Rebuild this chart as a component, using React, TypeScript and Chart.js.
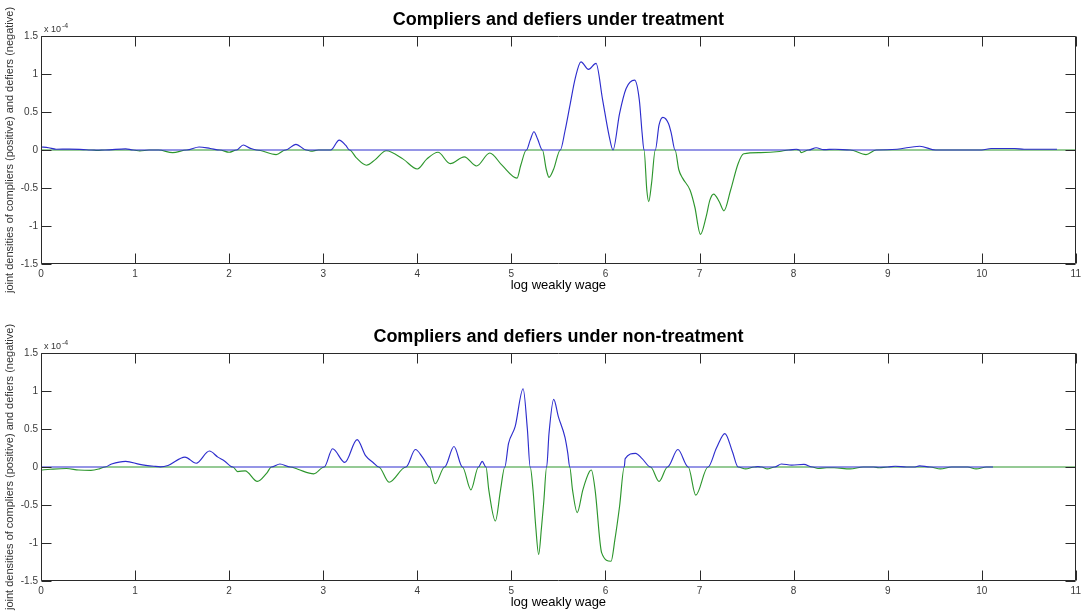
import React, { useEffect, useRef } from "react";
import { Chart, registerables } from "chart.js";

Chart.register(...registerables);

type Pt = [number, number];

// ---------- text ----------
const panelTitles = [
  "Compliers and defiers under treatment",
  "Compliers and defiers under non-treatment",
];
const xAxisLabel = "log weakly wage";
const yAxisLabel = "joint densities of compliers (positive) and defiers (negative)";
const exponentBase = "x 10";
const exponentPower = "-4";

// ---------- ticks ----------
const xTickValues = [0, 1, 2, 3, 4, 5, 6, 7, 8, 9, 10, 11];
const yTickValues = [-1.5, -1, -0.5, 0, 0.5, 1, 1.5];

// ---------- data (values in units of 1e-4) ----------
// Panel 1: under treatment
const treatCompliers: Pt[] = [
  [0, 0.04], [0.08, 0.03], [0.16, 0.01], [0.3, 0.012], [0.45, 0.005], [0.53, 0],
  [0.68, 0], [0.9, 0.015], [0.98, 0], [1.55, 0], [1.68, 0.04], [1.8, 0.02], [1.9, 0],
  [2.08, 0], [2.15, 0.066], [2.22, 0.025], [2.29, 0], [2.6, 0], [2.71, 0.075], [2.82, 0],
  [3.08, 0], [3.17, 0.13], [3.24, 0.06], [3.28, 0], [5.16, 0], [5.2, 0.13], [5.24, 0.24],
  [5.28, 0.14], [5.33, 0], [5.52, 0], [5.57, 0.25], [5.62, 0.57], [5.68, 0.95],
  [5.74, 1.16], [5.82, 1.06], [5.9, 1.14], [5.97, 0.66], [6.04, 0.18], [6.08, 0],
  [6.15, 0.48], [6.22, 0.81], [6.31, 0.92], [6.36, 0.66], [6.39, 0.22], [6.41, 0],
  [6.53, 0], [6.57, 0.33], [6.61, 0.43], [6.67, 0.35], [6.7, 0.22], [6.74, 0],
  [7.95, 0], [8.03, 0.01], [8.06, 0], [8.16, 0], [8.24, 0.03], [8.32, 0.005],
  [8.44, 0.01], [8.6, 0], [8.88, 0], [9.1, 0.01], [9.34, 0.05], [9.51, 0], [10.0, 0],
  [10.1, 0.02], [10.35, 0.02], [10.45, 0.01], [10.8, 0.01],
];
const treatDefiers: Pt[] = [
  [0, 0], [0.53, 0], [0.6, -0.005], [0.68, 0], [0.98, 0], [1.05, -0.012], [1.15, 0],
  [1.25, 0], [1.4, -0.035], [1.55, 0], [1.9, 0], [2.0, -0.03], [2.08, 0], [2.29, 0],
  [2.5, -0.06], [2.6, 0], [2.82, 0], [2.87, -0.015], [2.95, 0], [3.28, 0], [3.35, -0.1],
  [3.46, -0.2], [3.55, -0.13], [3.67, -0.01], [3.85, -0.12], [4.0, -0.25], [4.1, -0.12],
  [4.22, -0.03], [4.35, -0.18], [4.5, -0.09], [4.63, -0.21], [4.77, -0.04], [4.9, -0.2],
  [5.06, -0.37], [5.1, -0.2], [5.16, 0], [5.33, 0], [5.37, -0.25], [5.4, -0.36],
  [5.45, -0.25], [5.52, 0], [6.41, 0], [6.44, -0.53], [6.46, -0.68], [6.49, -0.44],
  [6.53, 0], [6.74, 0], [6.78, -0.26], [6.82, -0.37], [6.9, -0.53], [6.95, -0.75],
  [7.01, -1.11], [7.07, -0.88], [7.11, -0.66], [7.15, -0.58], [7.21, -0.68],
  [7.26, -0.8], [7.33, -0.53], [7.41, -0.18], [7.47, -0.05], [7.65, -0.035],
  [7.85, -0.02], [7.95, 0], [8.06, 0], [8.08, -0.035], [8.16, 0], [8.6, 0],
  [8.77, -0.06], [8.88, 0], [11, 0],
];

// Panel 2: under non-treatment
const nonTreatCompliers: Pt[] = [
  [0, 0], [0.68, 0], [0.75, 0.04], [0.9, 0.075], [1.05, 0.035], [1.2, 0.01], [1.27, 0.002],
  [1.35, 0.02], [1.53, 0.13], [1.65, 0.05], [1.79, 0.21], [1.88, 0.13], [1.95, 0.08],
  [2.04, 0], [2.45, 0], [2.54, 0.04], [2.65, 0], [3.01, 0], [3.1, 0.24], [3.23, 0.06],
  [3.36, 0.36], [3.45, 0.15], [3.53, 0.06], [3.59, 0], [3.88, 0], [3.98, 0.23],
  [4.06, 0.12], [4.13, 0], [4.29, 0], [4.39, 0.27], [4.48, 0], [4.65, 0], [4.69, 0.075],
  [4.73, 0], [4.93, 0], [4.97, 0.31], [5.04, 0.53], [5.125, 1.03], [5.17, 0.5], [5.2, 0],
  [5.375, 0], [5.4, 0.44], [5.45, 0.89], [5.5, 0.66], [5.57, 0.39], [5.6, 0.18],
  [5.62, 0], [6.2, 0], [6.21, 0.11], [6.32, 0.18], [6.39, 0.11], [6.48, 0], [6.66, 0],
  [6.77, 0.23], [6.88, 0], [7.09, 0], [7.18, 0.25], [7.27, 0.44], [7.35, 0.2], [7.41, 0],
  [7.58, 0], [7.62, 0.005], [7.66, 0], [7.8, 0], [7.87, 0.04], [7.98, 0.025],
  [8.11, 0.035], [8.2, 0], [9.0, 0], [9.08, 0.01], [9.2, 0], [9.28, 0], [9.34, 0.015],
  [9.45, 0], [10.12, 0],
];
const nonTreatDefiers: Pt[] = [
  [0, -0.04], [0.1, -0.03], [0.27, -0.02], [0.4, -0.04], [0.53, -0.045], [0.62, -0.025],
  [0.68, 0], [2.04, 0], [2.09, -0.06], [2.17, -0.05], [2.3, -0.19], [2.4, -0.08],
  [2.45, 0], [2.65, 0], [2.73, -0.03], [2.9, -0.09], [3.01, 0], [3.59, 0], [3.7, -0.2],
  [3.88, 0], [4.13, 0], [4.19, -0.22], [4.29, 0], [4.48, 0], [4.57, -0.3], [4.65, 0],
  [4.73, 0], [4.76, -0.3], [4.83, -0.71], [4.885, -0.3], [4.93, 0], [5.2, 0],
  [5.23, -0.3], [5.26, -0.8], [5.29, -1.15], [5.32, -0.8], [5.345, -0.45], [5.375, 0],
  [5.62, 0], [5.65, -0.3], [5.7, -0.6], [5.76, -0.3], [5.83, -0.06], [5.85, -0.04],
  [5.89, -0.3], [5.96, -1.13], [6.06, -1.24], [6.1, -0.96], [6.15, -0.52], [6.2, 0],
  [6.48, 0], [6.57, -0.19], [6.66, 0], [6.88, 0], [6.96, -0.37], [7.09, 0], [7.41, 0],
  [7.49, -0.025], [7.58, 0], [7.66, 0], [7.72, -0.025], [7.8, 0], [8.2, 0],
  [8.26, -0.02], [8.35, -0.01], [8.43, -0.01], [8.6, -0.025], [8.74, 0], [8.85, 0],
  [8.91, -0.01], [9.0, 0], [9.45, 0], [9.56, -0.025], [9.68, 0], [9.85, 0],
  [9.94, -0.025], [10.05, 0], [11, 0],
];

const FONT = '"Liberation Sans", Arial, Helvetica, sans-serif';
const BLUE = "rgb(45,45,205)";
const GREEN = "rgb(45,150,45)";
const AXIS = "#2a2a2a";

const matlabAxes = {
  id: "matlabAxes",
  afterDatasetsDraw(chart: any, _args: any, opts: any) {
    const { ctx, chartArea } = chart;
    const { left, right, top, bottom } = chartArea;
    const xs = chart.scales.x;
    const ys = chart.scales.y;
    ctx.save();
    ctx.strokeStyle = AXIS;
    ctx.lineWidth = 1;
    const L = Math.round(left) + 0.5;
    const R = Math.round(right) - 0.5;
    const T = Math.round(top) + 0.5;
    const B = Math.round(bottom) - 0.5;
    ctx.beginPath();
    ctx.rect(L, T, R - L, B - T);
    const tl = 10;
    for (const v of xTickValues) {
      const px = Math.round(xs.getPixelForValue(v)) + 0.5;
      ctx.moveTo(px, B);
      ctx.lineTo(px, B - tl);
      ctx.moveTo(px, T);
      ctx.lineTo(px, T + tl);
    }
    for (const v of yTickValues) {
      const py = Math.round(ys.getPixelForValue(v)) + 0.5;
      ctx.moveTo(L, py);
      ctx.lineTo(L + tl, py);
      ctx.moveTo(R, py);
      ctx.lineTo(R - tl, py);
    }
    ctx.stroke();

    // title
    ctx.fillStyle = "#000";
    ctx.font = `bold 18px ${FONT}`;
    ctx.textAlign = "center";
    ctx.textBaseline = "middle";
    ctx.fillText(opts.title, (left + right) / 2, top - 16);

    // exponent label
    ctx.fillStyle = "#333";
    ctx.textAlign = "left";
    ctx.font = `9px ${FONT}`;
    const ex = left + 3;
    ctx.fillText(exponentBase, ex, top - 6.5);
    const w = ctx.measureText(exponentBase).width;
    ctx.font = `7px ${FONT}`;
    ctx.fillText(exponentPower, ex + w + 1, top - 10);
    ctx.restore();
  },
};

function Panel({ title, compliers, defiers, top }: { title: string; compliers: Pt[]; defiers: Pt[]; top: number }) {
  const ref = useRef<HTMLCanvasElement | null>(null);
  useEffect(() => {
    if (!ref.current) return;
    const chart = new Chart(ref.current, {
      type: "line",
      data: {
        datasets: [
          {
            label: "compliers",
            data: compliers.map(([x, y]) => ({ x, y })),
            borderColor: BLUE,
            borderWidth: 1.15,
            pointRadius: 0,
            cubicInterpolationMode: "monotone",
            fill: false,
          },
          {
            label: "defiers",
            data: defiers.map(([x, y]) => ({ x, y })),
            borderColor: GREEN,
            borderWidth: 1.15,
            pointRadius: 0,
            cubicInterpolationMode: "monotone",
            fill: false,
          },
        ],
      },
      options: {
        animation: false,
        responsive: false,
        maintainAspectRatio: false,
        events: [],
        layout: { padding: { top: 36, right: 9, left: 0, bottom: 0 } },
        plugins: {
          legend: { display: false },
          tooltip: { enabled: false },
          title: { display: false },
          matlabAxes: { title },
        } as any,
        scales: {
          x: {
            type: "linear",
            min: 0,
            max: 11,
            afterBuildTicks: (s: any) => {
              s.ticks = xTickValues.map((v) => ({ value: v }));
            },
            afterFit: (s: any) => {
              s.height = 32;
            },
            grid: { display: false, drawTicks: false },
            border: { display: false },
            ticks: {
              padding: 4,
              color: "#3a3a3a",
              font: { family: FONT, size: 10 },
              maxRotation: 0,
              autoSkip: false,
              callback: (v: any) => String(v),
            },
            title: {
              display: true,
              text: xAxisLabel,
              color: "#000",
              font: { family: FONT, size: 13 },
              padding: { top: 0, bottom: 3 },
            },
          },
          y: {
            type: "linear",
            min: -1.5,
            max: 1.5,
            afterBuildTicks: (s: any) => {
              s.ticks = yTickValues.map((v) => ({ value: v }));
            },
            afterFit: (s: any) => {
              s.width = 41;
            },
            grid: { display: false, drawTicks: false },
            border: { display: false },
            ticks: {
              padding: 3,
              color: "#3a3a3a",
              font: { family: FONT, size: 10 },
              autoSkip: false,
              callback: (v: any) => String(v),
            },
            title: {
              display: true,
              text: yAxisLabel,
              color: "#333",
              font: { family: FONT, size: 11 },
              padding: { top: 3, bottom: 0 },
            },
          },
        },
      },
      plugins: [matlabAxes as any],
    });
    return () => chart.destroy();
  }, [title, compliers, defiers]);
  return (
    <canvas
      ref={ref}
      width={1085}
      height={296}
      style={{ position: "absolute", left: 0, top, width: 1085, height: 296 }}
    />
  );
}

export default function App() {
  return (
    <div style={{ position: "fixed", left: 0, top: 0, width: 1085, height: 613, background: "#fff", overflow: "hidden" }}>
      <Panel title={panelTitles[0]} compliers={treatCompliers} defiers={treatDefiers} top={0} />
      <Panel title={panelTitles[1]} compliers={nonTreatCompliers} defiers={nonTreatDefiers} top={317} />
    </div>
  );
}
